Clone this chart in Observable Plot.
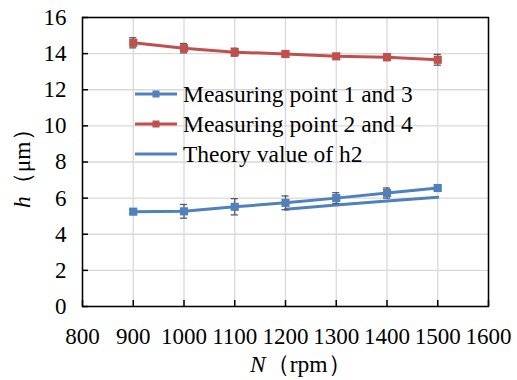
<!DOCTYPE html>
<html><head><meta charset="utf-8">
<script src="https://cdn.jsdelivr.net/npm/d3@7"></script>
<script src="https://cdn.jsdelivr.net/npm/@observablehq/plot@0.6"></script>
<style>body{margin:0;background:#fff}</style>
</head><body><div id="chart"></div>
<script>
const speeds = [900, 1000, 1100, 1200, 1300, 1400, 1500];
const point13 = [5.25, 5.27, 5.52, 5.74, 6.0, 6.28, 6.56];
const point13Err = [0.12, 0.38, 0.45, 0.38, 0.3, 0.28, 0.15];
const point24 = [14.6, 14.3, 14.08, 13.98, 13.85, 13.8, 13.66];
const point24Err = [0.28, 0.26, 0.22, 0.12, 0.15, 0.18, 0.3];
const theorySpeeds = [1200, 1300, 1400, 1500];
const theoryH2 = [5.38, 5.62, 5.84, 6.05];
const xTicks = [800, 900, 1000, 1100, 1200, 1300, 1400, 1500, 1600];
const yTicks = [0, 2, 4, 6, 8, 10, 12, 14, 16];
const seriesNames = ["Measuring point 1 and 3", "Measuring point 2 and 4", "Theory value of h2"];
const colors = ["#4F81BD", "#C0504D", "#4F81BD"];
const xTitle = ["N", "（rpm）"];
const yTitle = ["h", "（μm）"];

const W = 517, H = 380, mL = 82, mR = 29, mT = 17, mB = 74;
const pw = W - mL - mR, ph = H - mT - mB;
const font = "Liberation Serif, Times New Roman, serif";
const tickFs = 23, textFs = 23.5;

const s13 = speeds.map((x, i) => ({x, y: point13[i], e: point13Err[i]}));
const s24 = speeds.map((x, i) => ({x, y: point24[i], e: point24Err[i]}));
const th = theorySpeeds.map((x, i) => ({x, y: theoryH2[i]}));
const capHalf = 7;

function seriesMarks(data, color) {
  return [
    Plot.line(data, {x: "x", y: "y", stroke: color, strokeWidth: 3}),
    Plot.ruleX(data, {x: "x", y1: d => d.y - d.e, y2: d => d.y + d.e, stroke: "#595959", strokeWidth: 1.3}),
    Plot.ruleY(data, {y: d => d.y + d.e, x1: d => d.x - capHalf, x2: d => d.x + capHalf, stroke: "#595959", strokeWidth: 1.3}),
    Plot.ruleY(data, {y: d => d.y - d.e, x1: d => d.x - capHalf, x2: d => d.x + capHalf, stroke: "#595959", strokeWidth: 1.3}),
    Plot.dot(data, {x: "x", y: "y", symbol: "square", r: 4.6, fill: color, stroke: "none"})
  ];
}

const chart = Plot.plot({
  width: W, height: H,
  marginLeft: mL, marginRight: mR, marginTop: mT, marginBottom: mB,
  style: {fontFamily: font, color: "black", background: "white"},
  x: {domain: [800, 1600]},
  y: {domain: [0, 16]},
  marks: [
    Plot.gridX(xTicks, {stroke: "#d9d9d9", strokeOpacity: 1, strokeWidth: 1.3}),
    Plot.gridY(yTicks, {stroke: "#d9d9d9", strokeOpacity: 1, strokeWidth: 1.3}),
    Plot.axisX(xTicks, {tickSize: 0, tickPadding: 21, tickFormat: d => String(d), label: null, fontSize: tickFs, fontFamily: font, fontVariant: "normal"}),
    Plot.axisY(yTicks, {tickSize: 0, tickPadding: 16, tickFormat: d => String(d), label: null, fontSize: tickFs, fontFamily: font, fontVariant: "normal"}),
    Plot.ruleX(xTicks, {x: d => d, insetTop: ph - 6, stroke: "black", strokeWidth: 1.5}),
    Plot.ruleY(yTicks, {y: d => d, insetRight: pw - 6, stroke: "black", strokeWidth: 1.5}),
    Plot.line(th, {x: "x", y: "y", stroke: colors[2], strokeWidth: 3}),
    ...seriesMarks(s13, colors[0]),
    ...seriesMarks(s24, colors[1]),
    Plot.frame({stroke: "black", strokeWidth: 1.5})
  ]
});

// place Plot's rendered marks into a plain SVG element
const plain = d3.create("svg")
  .attr("width", W).attr("height", H).attr("viewBox", chart.getAttribute("viewBox") || `0 0 ${W} ${H}`)
  .attr("fill", "black").attr("font-family", font).attr("font-size", tickFs)
  .attr("text-anchor", "middle").style("display", "block").style("background", "white");
const pnode = plain.node();
d3.select(chart).selectAll("style").remove();
while (chart.firstChild) pnode.appendChild(chart.firstChild);
plain.selectAll("text").attr("font-family", font);

// legend
const lg = plain.append("g").attr("font-family", font).attr("font-size", textFs).attr("text-anchor", "start");
seriesNames.forEach((name, i) => {
  const y = 94 + i * 30;
  lg.append("line").attr("x1", 135).attr("x2", 177).attr("y1", y).attr("y2", y)
    .attr("stroke", colors[i]).attr("stroke-width", 3);
  if (i < 2) lg.append("rect").attr("x", 152.5).attr("y", y - 3.5).attr("width", 7).attr("height", 7).attr("fill", colors[i]);
  lg.append("text").attr("x", 183).attr("y", y).attr("dy", "0.35em").attr("fill", "black").text(name);
});
// axis titles
const xt = plain.append("text").attr("x", 250).attr("y", 364).attr("dy", "0.35em")
  .attr("text-anchor", "start").attr("font-size", textFs).attr("fill", "black").attr("font-family", font);
xt.append("tspan").attr("font-style", "italic").text(xTitle[0]);
xt.append("tspan").text(xTitle[1]);
const yt = plain.append("text").attr("transform", `translate(22,208) rotate(-90)`).attr("dy", "0.35em")
  .attr("text-anchor", "start").attr("font-size", textFs).attr("fill", "black").attr("font-family", font);
yt.append("tspan").attr("font-style", "italic").text(yTitle[0]);
yt.append("tspan").text(yTitle[1]);

document.getElementById("chart").appendChild(pnode);

// fallback: if the serif face did not resolve, use DejaVu Serif at a compensating size
const probe = plain.append("text").attr("x", -1000).attr("y", -1000).attr("font-size", 20).attr("font-family", font).text("1111111111");
const probeW = probe.node().getComputedTextLength();
probe.remove();
if (probeW > 105) {
  const alt = "DejaVu Serif, serif";
  plain.attr("font-family", alt);
  plain.selectAll("g, text").filter(function() { return this.hasAttribute("font-family"); }).attr("font-family", alt);
  plain.selectAll("[font-size]").each(function() {
    const v = parseFloat(this.getAttribute("font-size"));
    if (v) this.setAttribute("font-size", (v * 0.8).toFixed(1));
  });
}
</script>
</body></html>
